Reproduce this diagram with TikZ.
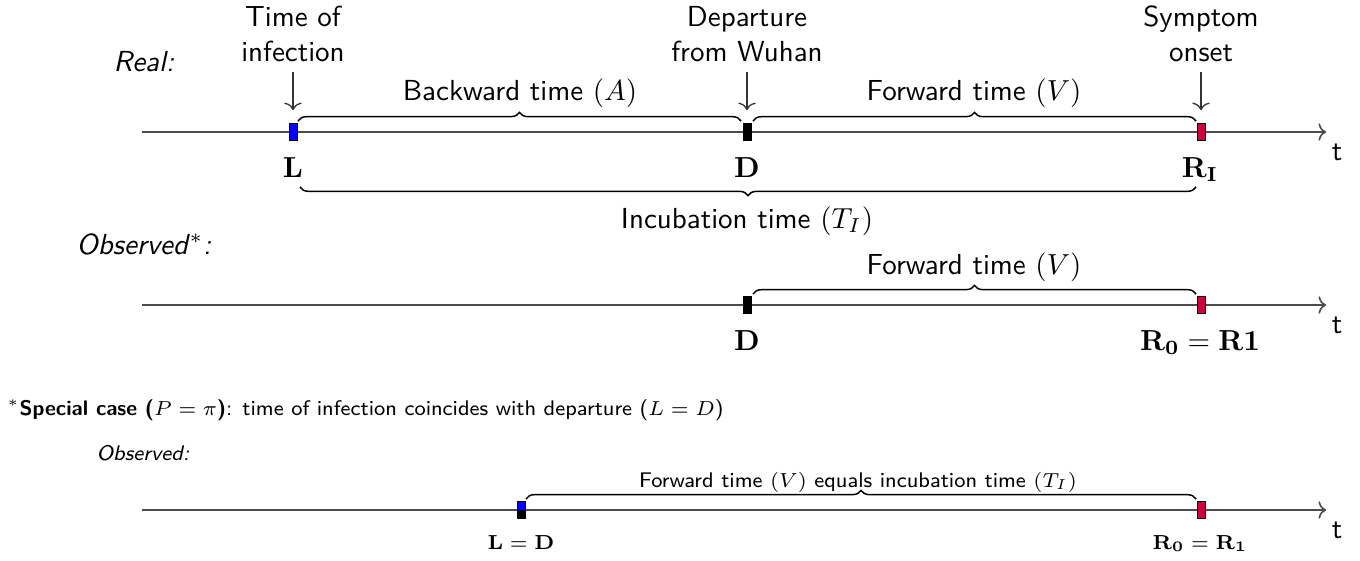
\documentclass[tikz,border=0pt]{standalone}
\usetikzlibrary{decorations.pathreplacing,arrows.meta}
\tikzset{
  axisline/.style={draw=black!70, line width=0.55pt, -{To[length=2.6pt,width=6pt]}},
  dnarrow/.style={draw=black!80, line width=0.45pt, -{To[length=2.6pt,width=6pt]}, shorten <=3.4pt, shorten >=4.6pt},
  evbox/.style={draw=black, line width=0.3pt, minimum width=2.8pt, minimum height=5.6pt, inner sep=0pt},
  bracetop/.style={draw=black, line width=0.5pt, decorate, decoration={brace, amplitude=3pt}},
  bracebot/.style={draw=black, line width=0.5pt, decorate, decoration={brace, amplitude=3pt, mirror}},
  lbl/.style={font=\sffamily},
  small/.style={font=\sffamily\fontsize{7.3}{9}\selectfont},
  smallm/.style={font=\fontsize{7.3}{9}\selectfont},
}
\definecolor{onsetred}{RGB}{200,0,62}
\definecolor{infblue}{RGB}{0,0,255}
\begin{document}
\begin{tikzpicture}[x=0.345pt,y=-0.345pt,inner sep=0pt]
\useasboundingbox (0,0) rectangle (1360,560);

% ---------- Row 1: Real ----------
\node[lbl,anchor=west] (real) at (113,62) {\textit{Real:}};
\coordinate (a1s) at (142,132);
\coordinate (a1e) at (1326,132);
\draw[axisline] (a1s) -- (a1e);
\node[evbox,fill=infblue] (L1) at (293,132) {};
\node[evbox,fill=black] (D1) at (747,132) {};
\node[evbox,fill=onsetred] (R1) at (1201,132) {};

\node[lbl,anchor=south,align=center] (tinf) at (293,62) {Time of\\infection};
\node[lbl,anchor=south,align=center] (tdep) at (747,62) {Departure\\from Wuhan};
\node[lbl,anchor=south,align=center] (tons) at (1201,62) {Symptom\\onset};
\draw[dnarrow] (tinf.south) -- (L1.north);
\draw[dnarrow] (tdep.south) -- (D1.north);
\draw[dnarrow] (tons.south) -- (R1.north);

\coordinate (b1a) at (298,121);
\coordinate (b1b) at (741,121);
\coordinate (b2a) at (753,121);
\coordinate (b2b) at (1196,121);
\draw[bracetop] (b1a) -- (b1b);
\draw[bracetop] (b2a) -- (b2b);
\node[lbl] (bwd) at (520,93) {Backward time $(A)$};
\node[lbl] (fwd1) at (974,93) {Forward time $(V)$};

\node[anchor=base] (Llab) at (293,177) {$\mathbf{L}$};
\node[anchor=base] (Dlab) at (747,177) {$\mathbf{D}$};
\node[anchor=base] (Rlab) at (1200,177) {$\mathbf{R_I}$};
\node[lbl] (t1) at (1337,152) {t};

\coordinate (b3a) at (300,187);
\coordinate (b3b) at (1196,187);
\draw[bracebot] (b3a) -- (b3b);
\node[lbl] (inc) at (747,221) {Incubation time $(T_I)$};

% ---------- Row 2: Observed* ----------
\node[lbl,anchor=west] (obs) at (76,244) {\textit{Observed}$^*$\textit{:}};
\coordinate (a2s) at (142,305);
\coordinate (a2e) at (1326,305);
\draw[axisline] (a2s) -- (a2e);
\node[evbox,fill=black] (D2) at (747,305) {};
\node[evbox,fill=onsetred] (R2) at (1201,305) {};
\coordinate (b4a) at (753,294);
\coordinate (b4b) at (1196,294);
\draw[bracetop] (b4a) -- (b4b);
\node[lbl] (fwd2) at (974,267) {Forward time $(V)$};
\node[anchor=base] (D2lab) at (747,350) {$\mathbf{D}$};
\node[anchor=base] (R2lab) at (1200,350) {$\mathbf{R_0=R1}$};
\node[lbl] (t2) at (1337,325) {t};

% ---------- Footnote ----------
\node[small,anchor=west] (foot) at (7,410) {$^*$\textbf{Special case (}$P=\pi$\textbf{)}: time of infection coincides with departure ($L=D$)};
\node[small,anchor=west] (obs3) at (96,453) {\textit{Observed:}};

% ---------- Row 3 ----------
\coordinate (a3s) at (142,510);
\coordinate (a3e) at (1326,510);
\draw[axisline] (a3s) -- (a3e);
\node[evbox,path picture={\fill[infblue] (path picture bounding box.north west) rectangle (path picture bounding box.east); \fill[black] (path picture bounding box.west) rectangle (path picture bounding box.south east);}] (LD3) at (521,510) {};
\node[evbox,fill=onsetred] (R3) at (1201,510) {};
\coordinate (b5a) at (526,499);
\coordinate (b5b) at (1196,499);
\draw[bracetop] (b5a) -- (b5b);
\node[small] (fwd3) at (858,482) {Forward time $(V)$ equals incubation time $(T_I)$};
\node[anchor=base,smallm] (LDlab) at (521,549) {$\mathbf{L=D}$};
\node[anchor=base,smallm] (R3lab) at (1200,549) {$\mathbf{R_0=R_1}$};
\node[lbl] (t3) at (1337,530) {t};
\end{tikzpicture}
\end{document}
